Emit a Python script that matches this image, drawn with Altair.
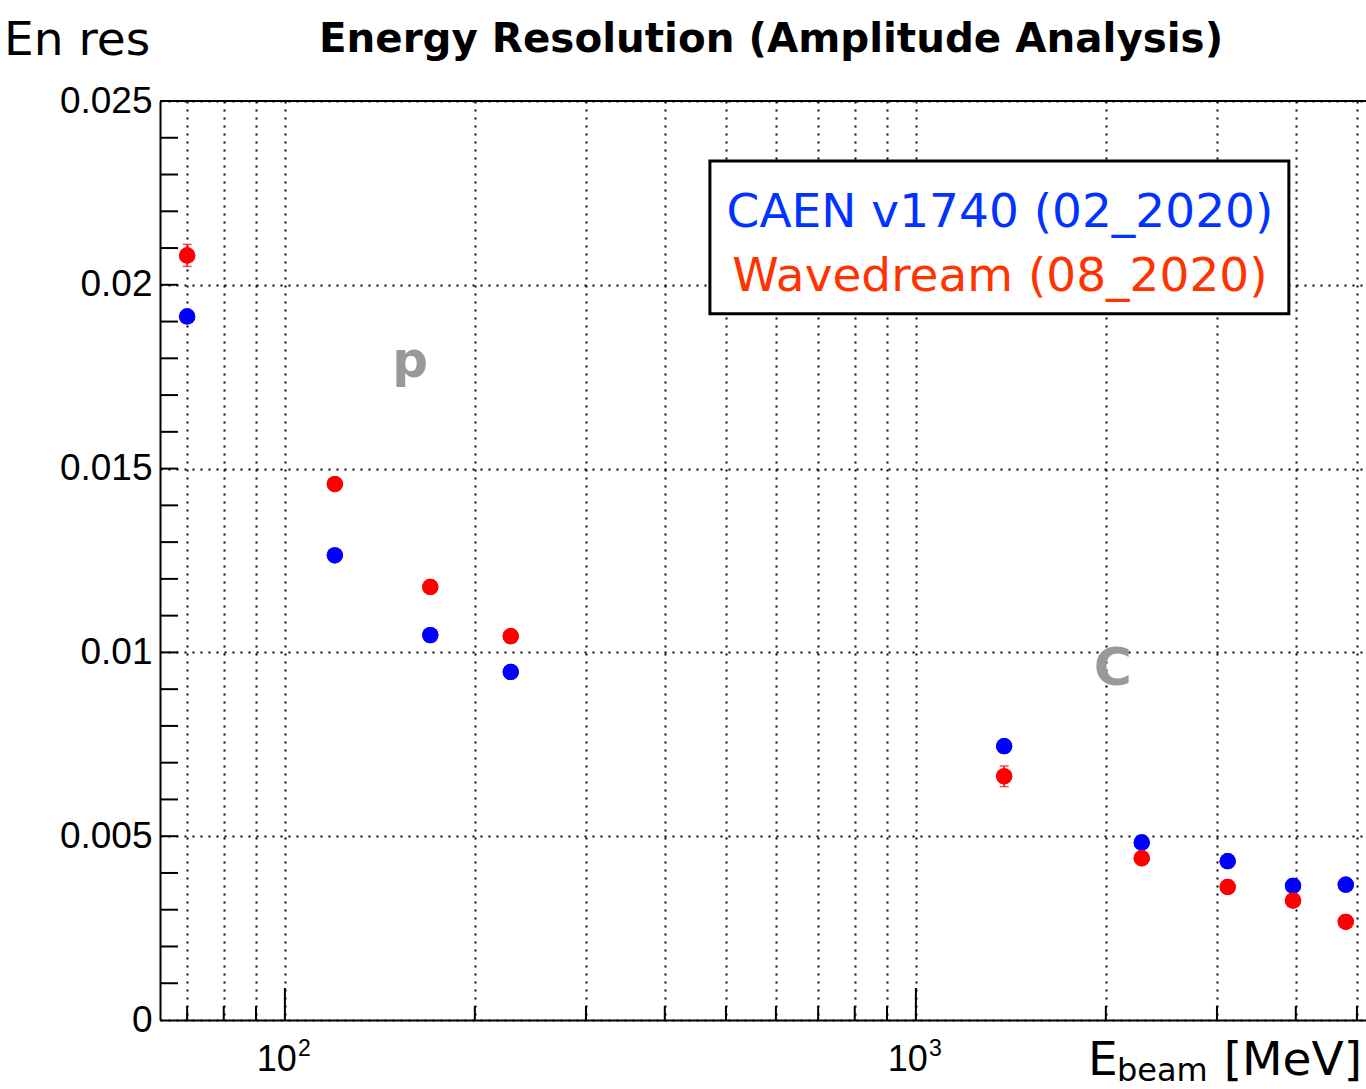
import altair as alt
import pandas as pd

# ---- data ----
energy = [70, 120, 170, 228, 1380, 2280, 3120, 3960, 4800]          # MeV
caen = [0.01914, 0.01264, 0.01047, 0.00947, 0.00745, 0.00483, 0.00432, 0.00365, 0.00368]
caen_err = [0.0001, 0.0001, 0.0001, 0.0001, 0.0001, 0.0001, 0.0001, 0.0001, 0.0001]
wd = [0.02080, 0.01458, 0.01178, 0.01044, 0.00663, 0.00440, 0.00362, 0.00325, 0.00267]
wd_err = [0.0003, 0.00015, 0.00015, 0.00015, 0.00028, 0.00015, 0.00015, 0.00015, 0.00015]

x_grid = [70, 80, 90, 100, 200, 300, 400, 500, 600, 700, 800, 900, 1000, 2000, 3000, 4000, 5000]
x_minor = [70, 80, 90, 200, 300, 400, 500, 600, 700, 800, 900, 2000, 3000, 4000, 5000]
x_major = [100, 1000]
x_exp = ["2", "3"]
y_major = [0, 0.005, 0.01, 0.015, 0.02, 0.025]
y_ticks = [0.001, 0.002, 0.003, 0.004, 0.005, 0.006, 0.007, 0.008, 0.009, 0.010,
           0.011, 0.012, 0.013, 0.014, 0.015, 0.016, 0.017, 0.018, 0.019, 0.020,
           0.021, 0.022, 0.023, 0.024]

legend_labels = ["CAEN v1740 (02_2020)", "Wavedream (08_2020)"]
legend_colors = ["#0033ff", "#ff3300"]

W, H = 1206, 919
FONT = "DejaVu Sans"
NUMFONT = "Liberation Sans"

xscale = alt.Scale(type="log", domain=[63.4, 5168], nice=False)
yscale = alt.Scale(domain=[0, 0.025], nice=False, zero=False)

rows = []
for e, v, er in zip(energy, caen, caen_err):
    rows.append({"E": e, "res": v, "lo": v - er, "hi": v + er, "set": "CAEN"})
for e, v, er in zip(energy, wd, wd_err):
    rows.append({"E": e, "res": v, "lo": v - er, "hi": v + er, "set": "WD"})
df = pd.DataFrame(rows)

color = alt.Color("set:N", scale=alt.Scale(domain=["CAEN", "WD"], range=["#0000ff", "#ff0000"]), legend=None)

xaxis = alt.Axis(values=x_grid, grid=True, labels=False, ticks=False, domain=True,
                 domainColor="black", domainWidth=2, gridColor="black", gridDash=[2, 6],
                 gridWidth=2, gridOpacity=1, title=None)
yaxis = alt.Axis(values=y_major, grid=True, labels=True, ticks=False, domain=True,
                 domainColor="black", domainWidth=2, gridColor="black", gridDash=[2, 6],
                 gridWidth=2, gridOpacity=1, title=None, format="~g",
                 labelFont=NUMFONT, labelFontSize=37, labelColor="black", labelPadding=8)

points = alt.Chart(df).mark_circle(size=265, opacity=1).encode(
    x=alt.X("E:Q", scale=xscale, axis=xaxis),
    y=alt.Y("res:Q", scale=yscale, axis=yaxis),
    color=color,
)
ebar = alt.Chart(df).mark_rule(strokeWidth=1.5).encode(
    x=alt.X("E:Q", scale=xscale), y=alt.Y("lo:Q", scale=yscale), y2="hi:Q", color=color)
cap_lo = alt.Chart(df).mark_tick(orient="horizontal", size=9, thickness=1.5).encode(
    x=alt.X("E:Q", scale=xscale), y=alt.Y("lo:Q", scale=yscale), color=color)
cap_hi = alt.Chart(df).mark_tick(orient="horizontal", size=9, thickness=1.5).encode(
    x=alt.X("E:Q", scale=xscale), y=alt.Y("hi:Q", scale=yscale), color=color)

# y tick marks (inside)
ytk = alt.Chart(pd.DataFrame({"v": y_ticks})).mark_rule(color="black", strokeWidth=2).encode(
    y=alt.Y("v:Q", scale=yscale), x=alt.value(0), x2=alt.value(18))
# x tick marks (inside)
xtk_min = alt.Chart(pd.DataFrame({"v": x_minor})).mark_rule(color="black", strokeWidth=2).encode(
    x=alt.X("v:Q", scale=xscale), y=alt.value(H), y2=alt.value(H - 14))
xtk_maj = alt.Chart(pd.DataFrame({"v": x_major})).mark_rule(color="black", strokeWidth=2).encode(
    x=alt.X("v:Q", scale=xscale), y=alt.value(H), y2=alt.value(H - 32))
# x labels 10^n
xlab_df = pd.DataFrame({"v": x_major, "base": ["10", "10"], "exp": x_exp})
xlab = alt.Chart(xlab_df).mark_text(font=NUMFONT, fontSize=36, align="right", baseline="alphabetic",
                                    dx=12, color="black").encode(
    x=alt.X("v:Q", scale=xscale), y=alt.value(H + 51), text="base:N")
xexp = alt.Chart(xlab_df).mark_text(font=NUMFONT, fontSize=23, align="left", baseline="alphabetic",
                                    dx=13, color="black").encode(
    x=alt.X("v:Q", scale=xscale), y=alt.value(H + 36), text="exp:N")

# top frame line
frame_top = alt.Chart(pd.DataFrame({"a": [0]})).mark_rule(color="black", strokeWidth=2).encode(
    x=alt.value(0), x2=alt.value(W), y=alt.value(0))

# legend box in data coordinates
leg_box = alt.Chart(pd.DataFrame({"x1": [471.6], "x2": [3900], "y1": [0.01921], "y2": [0.02337]})).mark_rect(
    fill="white", stroke="black", strokeWidth=3).encode(
    x=alt.X("x1:Q", scale=xscale), x2="x2:Q", y=alt.Y("y1:Q", scale=yscale), y2="y2:Q")
leg_txt = alt.Chart(pd.DataFrame({"t": legend_labels, "x": [1359, 1359], "y": [0.02158, 0.01984],
                                  "c": legend_colors})).mark_text(
    font=FONT, fontSize=47, align="center", baseline="alphabetic").encode(
    x=alt.X("x:Q", scale=xscale), y=alt.Y("y:Q", scale=yscale), text="t:N",
    color=alt.Color("c:N", scale=None))

# particle labels
part = alt.Chart(pd.DataFrame({"t": ["p", "C"], "x": [158, 2051], "y": [0.0175, 0.0091],
                               "s": [50, 52]})).mark_text(
    font=FONT, fontWeight="bold", color="#999999", align="center", baseline="alphabetic").encode(
    x=alt.X("x:Q", scale=xscale), y=alt.Y("y:Q", scale=yscale), text="t:N",
    size=alt.Size("s:Q", scale=None, legend=None))

# titles
title = alt.Chart(pd.DataFrame({"t": ["Energy Resolution (Amplitude Analysis)"]})).mark_text(
    font=FONT, fontWeight="bold", fontSize=40.4, align="center", baseline="alphabetic", color="black").encode(
    x=alt.value(611), y=alt.value(-49), text="t:N")
ytitle = alt.Chart(pd.DataFrame({"t": ["En res"]})).mark_text(
    font=FONT, fontSize=47, align="left", baseline="alphabetic", color="black").encode(
    x=alt.value(-156), y=alt.value(-46), text="t:N")
xt_E = alt.Chart(pd.DataFrame({"t": ["E"]})).mark_text(
    font=FONT, fontSize=47, align="left", baseline="alphabetic", color="black").encode(
    x=alt.value(928), y=alt.value(H + 55), text="t:N")
xt_sub = alt.Chart(pd.DataFrame({"t": ["beam"]})).mark_text(
    font=FONT, fontSize=32, align="left", baseline="alphabetic", color="black").encode(
    x=alt.value(957), y=alt.value(H + 61), text="t:N")
xt_unit = alt.Chart(pd.DataFrame({"t": ["[MeV]"]})).mark_text(
    font=FONT, fontSize=47, align="right", baseline="alphabetic", color="black").encode(
    x=alt.value(1202), y=alt.value(H + 55), text="t:N")

chart = alt.layer(
    points, frame_top, ytk, xtk_min, xtk_maj, leg_box, leg_txt, part,
    ebar, cap_lo, cap_hi, points,
    xlab, xexp, title, ytitle, xt_E, xt_sub, xt_unit,
).properties(
    width=W, height=H,
    autosize=alt.AutoSizeParams(type="none"),
    padding={"left": 160, "top": 101, "right": 0, "bottom": 69},
    background="white",
).configure_view(stroke=None)

chart.save("out.html", embed_options={"renderer": "svg", "actions": False})
